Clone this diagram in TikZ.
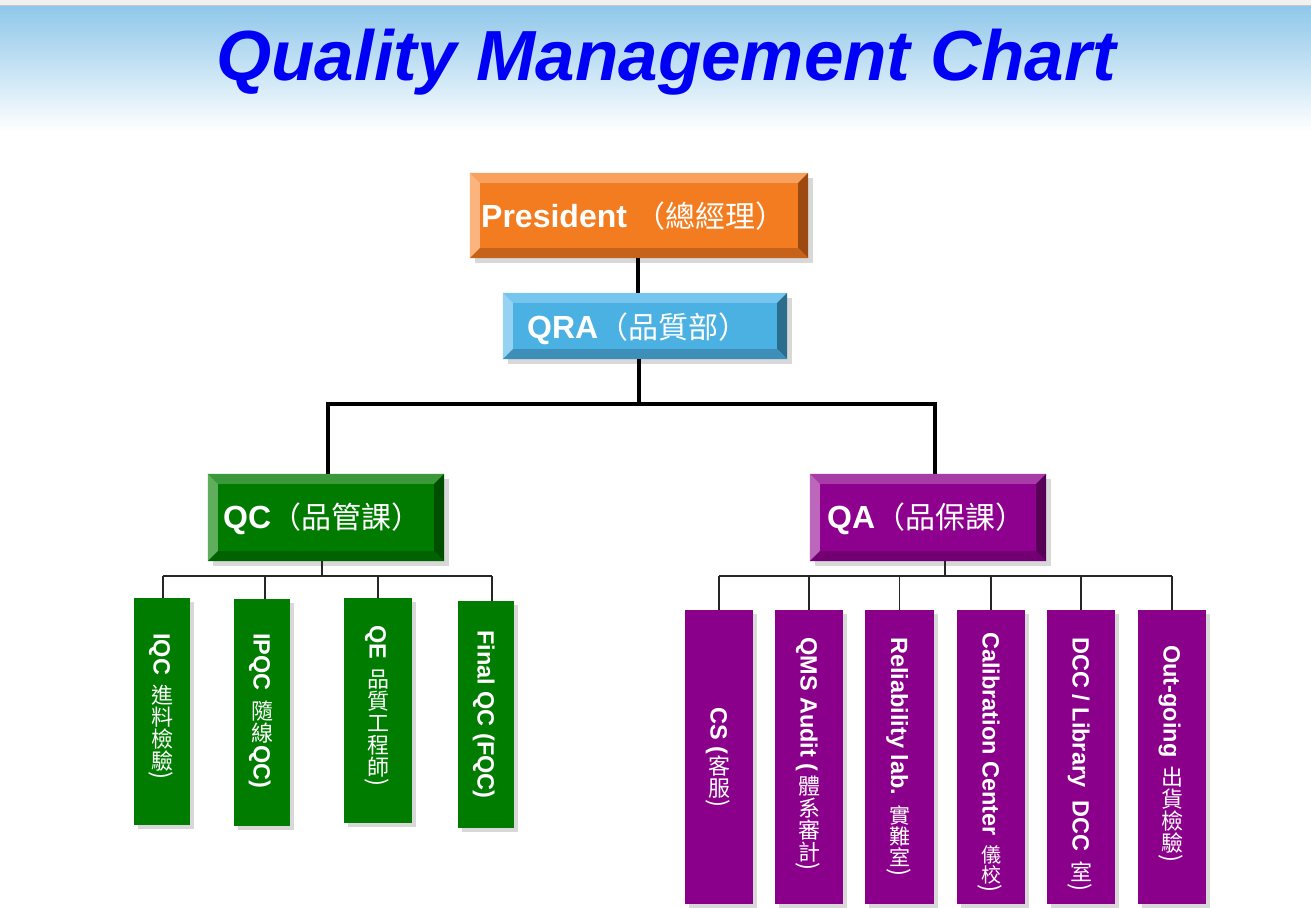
\documentclass[tikz,border=0pt]{standalone}
\usepackage{fontspec}
\usepackage{graphicx}
\setmainfont{Liberation Sans}
\newfontfamily\cjk{Noto Sans CJK TC}
\definecolor{titleblue}{HTML}{0000F5}
\definecolor{bandblue}{HTML}{90C8EA}
\definecolor{shgray}{HTML}{D8D8D8}
\definecolor{prface}{HTML}{F47C20}\definecolor{prtop}{HTML}{F8A05E}\definecolor{prleft}{HTML}{FBB47E}\definecolor{prright}{HTML}{9C4A10}\definecolor{prbot}{HTML}{C6621A}
\definecolor{qrface}{HTML}{4BB1E3}\definecolor{qrtop}{HTML}{76C5EE}\definecolor{qrleft}{HTML}{96D3F2}\definecolor{qrright}{HTML}{2C6D8E}\definecolor{qrbot}{HTML}{3D8FBA}
\definecolor{qcface}{HTML}{007B00}\definecolor{qctop}{HTML}{3A993A}\definecolor{qcleft}{HTML}{5EAE5E}\definecolor{qcright}{HTML}{004F00}\definecolor{qcbot}{HTML}{006300}
\definecolor{qaface}{HTML}{8E008E}\definecolor{qatop}{HTML}{A63CA6}\definecolor{qaleft}{HTML}{BC67BC}\definecolor{qaright}{HTML}{580058}\definecolor{qabot}{HTML}{720072}
\definecolor{subgreen}{HTML}{007C00}
\definecolor{subpurple}{HTML}{8B008B}
\newcommand\cjsz{22}
\newcommand\Rt[1]{\hbox to 44pt{\hss\rotatebox{-90}{\fontsize{23.5}{24}\selectfont\bfseries\raisebox{0pt}[.72em][0pt]{#1}}\hss}}
\newcommand\Cj[1]{\hbox to 44pt{\hss\cjk\fontsize{\cjsz}{\cjsz}\selectfont\vrule width0pt height.88em depth.12em\relax #1\hss}}
\newcommand\Rp[1]{\hbox to 44pt{\hss\rotatebox{-90}{\cjk\fontsize{24}{24}\selectfont\raisebox{0pt}[.7em][0pt]{#1}}\hss}}
\newcommand\Gp[1]{\kern#1pt}
\newcommand\vstack[1]{\vbox{\offinterlineskip#1}}
\newcommand\mcj[1]{{\cjk\mdseries\fontsize{30}{34}\selectfont #1}}
\newcommand\bevel[5]{%
 \fill[#2] (#1.north west) -- (#1.north east) -- ([xshift=-10pt,yshift=-10pt]#1.north east) -- ([xshift=10pt,yshift=-10pt]#1.north west) -- cycle;
 \fill[#3] (#1.north west) -- ([xshift=10pt,yshift=-10pt]#1.north west) -- ([xshift=10pt,yshift=10pt]#1.south west) -- (#1.south west) -- cycle;
 \fill[#4] (#1.north east) -- (#1.south east) -- ([xshift=-10pt,yshift=10pt]#1.south east) -- ([xshift=-10pt,yshift=-10pt]#1.north east) -- cycle;
 \fill[#5] (#1.south west) -- ([xshift=10pt,yshift=10pt]#1.south west) -- ([xshift=-10pt,yshift=10pt]#1.south east) -- (#1.south east) -- cycle;}
\tikzset{
 mbox/.style={inner sep=0pt, fill=#1, preaction={fill=shgray, transform canvas={shift={(5pt,-5pt)}}}},
 sbox/.style={inner sep=0pt, fill=#1, preaction={fill=shgray, transform canvas={shift={(4pt,-4pt)}}}},
 thickline/.style={line width=4pt, black},
 thinline/.style={line width=1.3pt, black!85},
 mlabel/.style={inner sep=0pt, anchor=base west, text=white, font=\bfseries\fontsize{32}{36}\selectfont},
 vlabel/.style={inner sep=0pt, anchor=north, text=white},
}
\begin{document}
\begin{tikzpicture}[x=1pt,y=-1pt]
\useasboundingbox (0,0) rectangle (1311,907);
\fill[white] (0,0) rectangle (1311,907);
\fill[black!6] (0,0) rectangle (1311,5);
\fill[black!22] (0,5) rectangle (1311,7);
\shade[top color=bandblue, bottom color=white] (0,7) rectangle (1311,132);
\node[font=\bfseries\itshape\fontsize{71}{80}\selectfont, text=titleblue, anchor=base, inner sep=0pt] (title) at (666,80) {Quality Management Chart};

% connector coordinates
\coordinate (j) at (639,404);
\coordinate (jl) at (328,404);
\coordinate (jr) at (935,404);
\coordinate (qcbus) at (322,576);
\coordinate (qabus) at (945,576);
\coordinate (b1) at (163,576);
\coordinate (b2) at (265,576);
\coordinate (b3) at (378,576);
\coordinate (b4) at (492,576);

% main boxes
\node[mbox=prface, minimum width=338pt, minimum height=85pt] (pres) at (639,215.5) {};
\node[mbox=qrface, minimum width=284pt, minimum height=66pt] (qra) at (645,326) {};
\node[mbox=qcface, minimum width=236pt, minimum height=87pt] (qc) at (326,517.5) {};
\node[mbox=qaface, minimum width=236pt, minimum height=87pt] (qa) at (928,517.5) {};
\bevel{pres}{prtop}{prleft}{prright}{prbot}
\bevel{qra}{qrtop}{qrleft}{qrright}{qrbot}
\bevel{qc}{qctop}{qcleft}{qcright}{qcbot}
\bevel{qa}{qatop}{qaleft}{qaright}{qabot}

% main connectors
\draw[thickline] ([xshift=-1pt]pres.south) -- ([xshift=-1pt]pres.south |- qra.north);
\draw[thickline] (j |- qra.south) -- (j);
\draw[thickline] (jl |- qc.north) -- (jl) -- (jr) -- (jr |- qa.north);

% sub boxes QC
\node[sbox=subgreen, minimum width=56pt, minimum height=227pt] (iqc) at (162,711.5) {};
\node[sbox=subgreen, minimum width=56pt, minimum height=227pt] (ipqc) at (262,712.5) {};
\node[sbox=subgreen, minimum width=68pt, minimum height=225pt] (qe) at (378,710.5) {};
\node[sbox=subgreen, minimum width=56pt, minimum height=227pt] (fqc) at (486,714.5) {};
% sub boxes QA
\node[sbox=subpurple, minimum width=68pt, minimum height=294pt] (cs) at (719,757) {};
\node[sbox=subpurple, minimum width=68pt, minimum height=294pt] (qms) at (809,757) {};
\node[sbox=subpurple, minimum width=69pt, minimum height=294pt] (rel) at (899.5,757) {};
\node[sbox=subpurple, minimum width=68pt, minimum height=294pt] (cal) at (991,757) {};
\node[sbox=subpurple, minimum width=68pt, minimum height=294pt] (dcc) at (1081,757) {};
\node[sbox=subpurple, minimum width=68pt, minimum height=294pt] (out) at (1172,757) {};

% sub connectors
\draw[thinline] (qcbus |- qc.south) -- (qcbus);
\draw[thinline] (b1) -- (b4);
\draw[thinline] (b1) -- (b1 |- iqc.north);
\draw[thinline] (b2) -- (b2 |- ipqc.north);
\draw[thinline] (b3) -- (b3 |- qe.north);
\draw[thinline] (b4) -- (b4 |- fqc.north);
\draw[thinline] (qabus |- qa.south) -- (qabus);
\draw[thinline] (cs.north |- qabus) -- (out.north |- qabus);
\foreach \n in {cs,qms,rel,cal,dcc,out} \draw[thinline] (\n.north |- qabus) -- (\n.north);

% main labels
\node[mlabel] (presl) at (481,227) {President \mcj{（總經理）}};
\node[mlabel] (qral) at (527,338) {QRA\mcj{（品質部）}};
\node[mlabel] (qcl) at (223,528) {QC\mcj{（品管課）}};
\node[mlabel] (qal) at (827,528) {QA\mcj{（品保課）}};

% vertical labels
\node[vlabel] (iqcl) at (162,633) {\vstack{\Rt{IQC}\Gp{9}\Cj{進}\Cj{料}\Cj{檢}\Cj{驗}\Rp{)}}};
\node[vlabel] (ipqcl) at (262,633) {\vstack{\Rt{IPQC}\Gp{9}\Cj{隨}\Cj{線}\Gp{2}\Rt{QC)}}};
\node[vlabel] (qel) at (378,625) {\vstack{\Rt{QE}\Gp{9}\Cj{品}\Cj{質}\Cj{工}\Cj{程}\Cj{師}\Rp{)}}};
\node[vlabel] (fqcl) at (486,630) {\vstack{\Rt{Final QC (FQC)}}};
\node[vlabel] (csl) at (719,707) {\vstack{\Rt{CS (}\Gp{1}\Cj{客}\Cj{服}\Rp{)}}};
\node[vlabel] (qmsl) at (809,637) {\vstack{\Rt{QMS Audit (}\Gp{3}\Cj{體}\Cj{系}\Cj{審}\Cj{計}\Rp{)}}};
\node[vlabel] (rell) at (899.5,637) {\vstack{\Rt{Reliability lab.}\Gp{10}\renewcommand\cjsz{21}\Cj{實}\Cj{難}\Cj{室}\Rp{)}}};
\node[vlabel] (call) at (991,632) {\vstack{\Rt{Calibration Center}\Gp{9}\renewcommand\cjsz{20}\Cj{儀}\Cj{校}\Rp{)}}};
\node[vlabel] (dccl) at (1081,637) {\vstack{\Rt{DCC / Library}\Gp{13}\Rt{DCC}\Gp{10}\Cj{室}\Rp{)}}};
\node[vlabel] (outl) at (1172,645) {\vstack{\Rt{Out-going}\Gp{9}\Cj{出}\Cj{貨}\Cj{檢}\Cj{驗}\Rp{)}}};
\end{tikzpicture}
\end{document}
